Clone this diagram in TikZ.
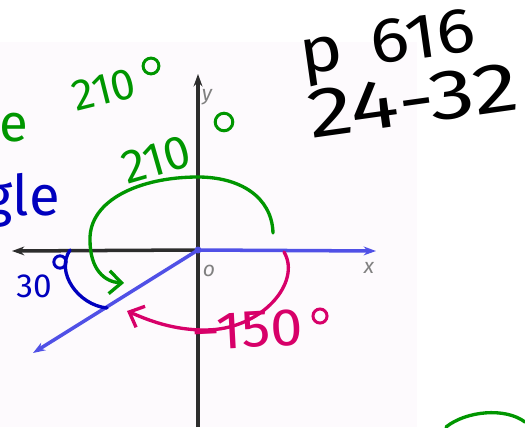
\documentclass[tikz,border=0pt]{standalone}
\usepackage{fontspec}
\setmainfont{Fira Sans}
\usetikzlibrary{arrows.meta}
\definecolor{inkgreen}{RGB}{0,150,0}
\definecolor{inkblue}{RGB}{0,0,190}
\definecolor{inkpink}{RGB}{215,0,105}
\definecolor{axisblue}{RGB}{80,80,230}
\definecolor{axisgray}{RGB}{45,45,45}
\definecolor{paper}{RGB}{253,250,253}
\begin{document}
\begin{tikzpicture}[
    x=0.02cm, y=-0.02cm,
    axis/.style={line width=2pt, -{Stealth[length=7pt, width=5pt]}},
    ink/.style={line width=1.9pt, line cap=round},
    barb/.style={-{Straight Barb[length=7pt, width=13pt]}},
    hand/.style={inner sep=0pt, font=\fontsize{#1}{#1}\selectfont},
    lbl/.style={inner sep=1pt, text=gray, font=\fontsize{12}{12}\selectfont\itshape},
    deg/.style={circle, draw, line width=1.7pt, inner sep=0pt, minimum size=#1}
  ]
  \useasboundingbox (0,0) rectangle (525,427);
  % textbook figure
  \fill[paper] (0,42) rectangle (417,427);
  \coordinate (O) at (198,250);
  \coordinate (xneg) at (12,251);
  \coordinate (xpos) at (376,251);
  \coordinate (ytop) at (198,74);
  \coordinate (ybot) at (198,427);
  \coordinate (ray) at (33,353);
  \draw[axis, axisgray, -] (ybot) -- (O);
  \draw[axis, axisgray] (O) -- (ytop);
  \draw[axis, axisgray] (O) -- (xneg);
  \draw[axis, axisblue] (O) -- (xpos);
  \draw[axis, axisblue] (O) -- (ray);
  \fill[axisblue] (O) circle (3.5);
  \node[lbl] (ylbl) at (207,97) {y};
  \node[lbl] (xlbl) at (369,268) {x};
  \node[lbl] (olbl) at (209,271) {o};

  % green 210 arc
  \coordinate (g0) at (273,233);
  \coordinate (g1) at (198,177);
  \coordinate (g2) at (90,240);
  \coordinate (g3) at (124,283);
  \draw[ink, inkgreen, barb] (g0) .. controls (272,197) and (240,177) .. (g1)
    .. controls (140,177) and (89,200) .. (g2)
    .. controls (90,270) and (105,282) .. (g3);
  % blue 30 arc
  \coordinate (b0) at (70,250);
  \coordinate (b1) at (107,308);
  \draw[ink, inkblue] (b0) .. controls (55,272) and (78,305) .. (b1);
  % pink -150 arc
  \coordinate (p0) at (284,252);
  \coordinate (p1) at (205,330);
  \coordinate (p2) at (127,311);
  \draw[ink, inkpink, barb] (p0) .. controls (302,282) and (262,330) .. (p1)
    .. controls (172,330) and (148,320) .. (p2);
  % green arc, bottom right
  \coordinate (c0) at (446,427);
  \coordinate (c1) at (525,422);
  \draw[ink, inkgreen] (c0) .. controls (466,411) and (505,407) .. (c1);

  % labels
  \node[hand=27, text=inkgreen, rotate=16] (t210) at (156,160) {210};
  \node[deg=10pt, inkgreen] (d210) at (224,122) {};
  \node[hand=25, text=inkgreen, rotate=14] (u210) at (104,90) {210};
  \node[deg=9pt, inkgreen] (du210) at (151,66) {};
  \node[hand=30, text=inkgreen, anchor=east] (le) at (29,122) {le};
  \node[hand=32, text=inkblue, anchor=east] (gle) at (60,200) {gle};
  \node[hand=19, text=inkblue] (t30) at (34,286) {30};
  \node[deg=7pt, inkblue] (d30) at (60,262) {};
  \node[hand=30, text=inkpink, rotate=3, xscale=1.1] (t150) at (247,330) {\textminus150};
  \node[deg=8pt, inkpink] (d150) at (320,316) {};
  \node[hand=36, rotate=8, xscale=1.15] (page) at (388,48) {p\hspace{0.4em}616};
  \node[hand=40, rotate=8, xscale=1.3] (probs) at (413,101) {24-32};
\end{tikzpicture}
\end{document}
